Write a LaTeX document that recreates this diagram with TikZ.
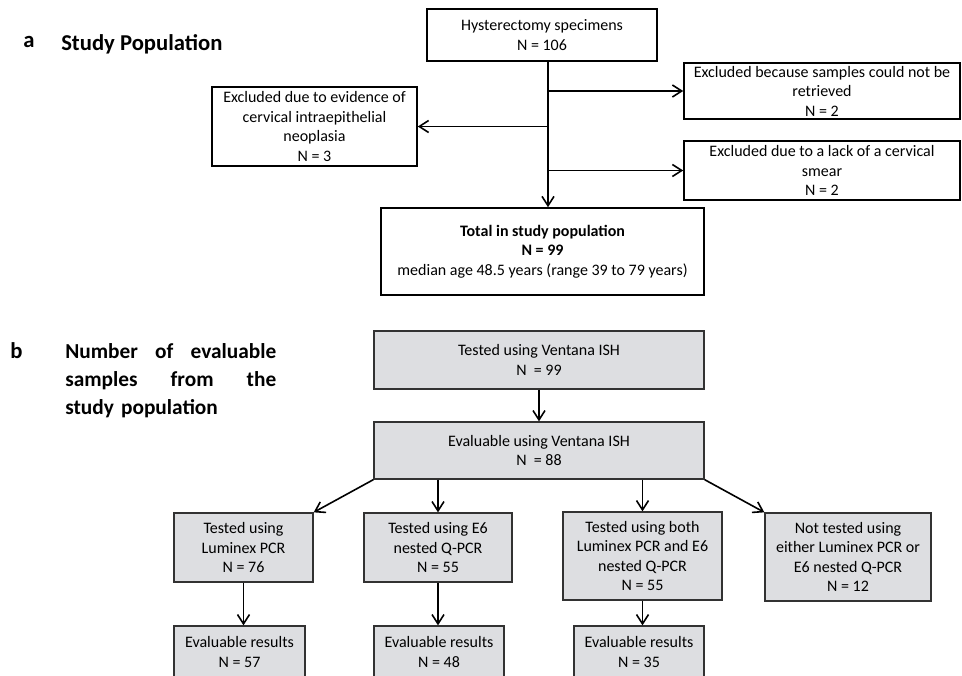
\documentclass[tikz,border=0pt]{standalone}
\usepackage{fontspec}
\setmainfont{Carlito}
\usetikzlibrary{arrows.meta,shadows}

\definecolor{boxgray}{RGB}{221,222,225}
\definecolor{edgegray}{RGB}{50,50,50}

\begin{document}
\begin{tikzpicture}[x=0.75pt, y=-0.75pt,
        every node/.style={font=\fontsize{12}{14.6}\selectfont, align=center, inner sep=0pt},
        boxsize/.style 2 args={minimum width=#1*0.75pt, minimum height=#2*0.75pt},
        plainbox/.style={draw, line width=1.2pt},
        graybox/.style={draw=edgegray, line width=1pt, fill=boxgray,
            drop shadow={shadow xshift=0.8pt, shadow yshift=-0.8pt, opacity=0.35}},
        heading/.style={font=\bfseries\fontsize{17}{21}\selectfont},
        arr/.style={-{Straight Barb[length=7pt,width=9pt]}, line width=1.2pt}]
    \useasboundingbox (0,0) rectangle (962,675);
    \clip (0,0) rectangle (962,675);

    % a
    \node[heading, anchor=base west] (alabel) at (23,47) {a};
    \node[heading, anchor=base west] (atitle) at (61,50) {Study Population};

    \node[plainbox, boxsize={230}{52}] (hyst) at (542,35) {Hysterectomy specimens\\N = 106};
    \node[plainbox, boxsize={205}{79}] (cin) at (314.5,126.5)
        {Excluded due to evidence of\\cervical intraepithelial\\neoplasia\\N = 3};
    \node[plainbox, boxsize={276}{56}] (noret) at (822,91)
        {Excluded because samples could not be\\retrieved\\N = 2};
    \node[plainbox, boxsize={276}{59}] (nosmear) at (822,170.5)
        {Excluded due to a lack of a cervical\\smear\\N = 2};
    \node[plainbox, boxsize={323}{87}] (total) at (542.5,251.5)
        {\textbf{Total in study population}\\\textbf{N = 99}\\median age 48.5 years (range 39 to 79 years)};

    \coordinate (trunk) at (548,0);
    \draw[arr] (hyst.south -| trunk) -- (total.north -| trunk);
    \draw[arr] (trunk |- cin.east) -- (cin.east);
    \draw[arr] (trunk |- noret.west) -- (noret.west);
    \draw[arr] (trunk |- nosmear.west) -- (nosmear.west);

    % b
    \node[heading, anchor=base west] (blabel) at (10,358) {b};
    \node[heading, font=\bfseries\fontsize{16}{21}\selectfont, anchor=north west,
          text width=211*0.75pt, align=left] (btitle) at (65,343)
        {Number \hfill of \hfill evaluable\\
         samples \hfill from \hfill the\\
         study population};

    \node[graybox, boxsize={330}{58}] (ish) at (539,360) {Tested using Ventana ISH\\N\ \ = 99};
    \node[graybox, boxsize={330}{57}] (evalish) at (539,450.5) {Evaluable using Ventana ISH\\N\ \ = 88};
    \node[graybox, boxsize={139}{69}] (lum) at (243.5,547.5) {Tested using\\Luminex PCR\\N = 76};
    \node[graybox, boxsize={148}{69}] (e6) at (438,547.5) {Tested using E6\\nested Q-PCR\\N = 55};
    \node[graybox, boxsize={159}{88}] (both) at (642.5,556)
        {Tested using both\\Luminex PCR and E6\\nested Q-PCR\\N = 55};
    \node[graybox, boxsize={166}{88}] (nott) at (848,557)
        {Not tested using\\either Luminex PCR or\\E6 nested Q-PCR\\N = 12};
    \node[graybox, boxsize={131}{52}] (lumres) at (239.5,652) {Evaluable results\\N = 57};
    \node[graybox, boxsize={130}{52}] (e6res) at (439,652) {Evaluable results\\N = 48};
    \node[graybox, boxsize={130}{52}] (bothres) at (639,652) {Evaluable results\\N = 35};

    \draw[arr] (ish) -- (evalish);
    \draw[arr] (evalish.south west) -- (lum.north east);
    \draw[arr] (evalish.south -| e6) -- (e6.north);
    \draw[arr] (evalish.south -| both) -- (both.north);
    \draw[arr] (evalish.south east) -- (nott.north west);
    \draw[arr] (lum.south) -- (lum.south |- lumres.north);
    \draw[arr] (e6.south) -- (e6.south |- e6res.north);
    \draw[arr] (both.south) -- (both.south |- bothres.north);
\end{tikzpicture}
\end{document}
